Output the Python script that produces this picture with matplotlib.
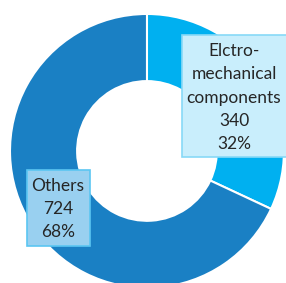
import matplotlib
matplotlib.use("Agg")
import matplotlib.pyplot as plt
from matplotlib.patches import Rectangle

categories = ["Elctro-\nmechanical\ncomponents", "Others"]
values = [340, 724]
percents = ["32%", "68%"]
colors = ["#00B0F0", "#1A80C4"]

fig = plt.figure(figsize=(2.86, 2.83), dpi=100)
ax = fig.add_axes([0, 0, 1, 1])
ax.pie(values, colors=colors, startangle=90, counterclock=False,
       radius=1.0, wedgeprops=dict(width=0.49, edgecolor="white", linewidth=1.5))
ax.set_xlim(-1.073, 1.015)
ax.set_ylim(-0.964, 1.102)
ax.set_aspect("auto")
ax.axis("off")

font = "Lato"
# Label boxes
ax.add_patch(Rectangle((0.636, 0.445), 0.40, 0.431, transform=ax.transAxes,
                       facecolor="#C9EEFC", edgecolor="#87D9F7", linewidth=1.2, clip_on=False))
ax.add_patch(Rectangle((0.094, 0.131), 0.221, 0.268, transform=ax.transAxes,
                       facecolor="#99D0F0", edgecolor="#5BC6F2", linewidth=1.2, clip_on=False))

ax.text(0.818, 0.655, f"{categories[0]}\n{values[0]}\n{percents[0]}", transform=ax.transAxes,
        ha="center", va="center", fontsize=12.5, family=font, color="#262626", linespacing=1.55)
ax.text(0.203, 0.261, f"{categories[1]}\n{values[1]}\n{percents[1]}", transform=ax.transAxes,
        ha="center", va="center", fontsize=12.5, family=font, color="#262626", linespacing=1.55)

fig.savefig("out.png", dpi=100)
